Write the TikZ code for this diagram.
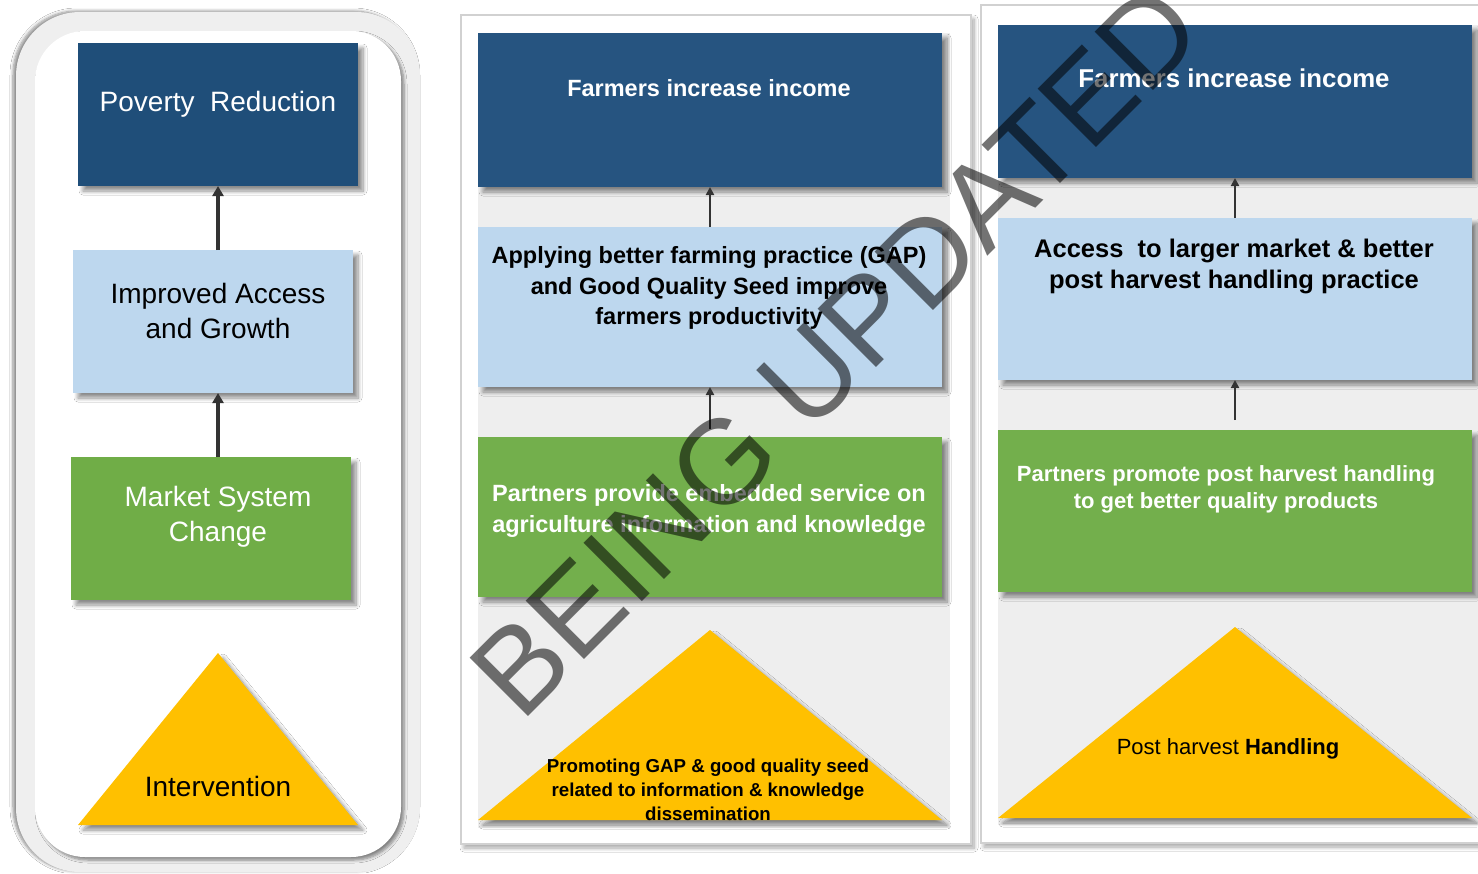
\documentclass[tikz,border=0pt]{standalone}
\usepackage{fontspec}
\setmainfont{Liberation Sans}
\usetikzlibrary{arrows.meta,shadows.blur}

\definecolor{navyA}{HTML}{1F4E79}
\definecolor{navyB}{HTML}{265480}
\definecolor{skyblue}{HTML}{BDD7EE}
\definecolor{leafA}{HTML}{70AD47}
\definecolor{leafB}{HTML}{73AF4C}
\definecolor{gold}{HTML}{FFC000}
\definecolor{panelgray}{HTML}{EEEEEE}
\definecolor{ringgray}{HTML}{EFEFEF}
\definecolor{arrowgray}{HTML}{333333}

\tikzset{
  boxshadow/.style={blur shadow={shadow xshift=5pt, shadow yshift=-5pt,
      shadow blur radius=4pt, shadow opacity=45, shadow blur steps=8}},
  softshadow/.style={blur shadow={shadow xshift=3pt, shadow yshift=-4pt,
      shadow blur radius=4pt, shadow opacity=35, shadow blur steps=8}},
  block/.style={rectangle, inner sep=0pt, outer sep=0pt, anchor=north west, boxshadow},
  navyboxA/.style={block, fill=navyA},
  navyboxB/.style={block, fill=navyB},
  skybox/.style={block, fill=skyblue},
  leafboxA/.style={block, fill=leafA},
  leafboxB/.style={block, fill=leafB},
  wide/.style={minimum width=280pt, minimum height=143pt},
  midcol/.style={minimum width=464pt},
  rightcol/.style={minimum width=474pt},
  frame/.style={rectangle, inner sep=0pt, outer sep=0pt, anchor=north west,
      fill=white, draw=black!18, line width=2pt, softshadow},
  plain/.style={font=\fontsize{28}{35}\selectfont, align=center, inner sep=0pt},
  boldA/.style={font=\bfseries\fontsize{23.5}{30.5}\selectfont, align=center, inner sep=0pt},
  boldB/.style={font=\bfseries\fontsize{25.5}{31}\selectfont, align=center, inner sep=0pt},
  bigarrow/.style={draw=arrowgray, line width=3.5pt, -{Triangle[width=11pt,length=10pt]}},
  thinarrow/.style={draw=arrowgray, line width=2.4pt, -{Triangle[width=8pt,length=8pt]}},
  watermark/.style={font=\fontsize{120}{144}\selectfont, text=black, text opacity=0.55,
      inner sep=0pt, outer sep=0pt},
}

\begin{document}
\begin{tikzpicture}[x=1pt, y=-1pt]
\useasboundingbox (0,0) rectangle (1478,873);
\fill[white] (0,0) rectangle (1478,873);

% ---------- left column: generic results chain ----------
\fill[ringgray, blur shadow={shadow xshift=-3pt, shadow yshift=1pt,
      shadow blur radius=3pt, shadow opacity=45, shadow blur steps=6}]
  (16,12) [rounded corners=64pt] rectangle (420,872);
\fill[white, blur shadow={shadow xshift=3pt, shadow yshift=-3pt,
      shadow blur radius=3pt, shadow opacity=45, shadow blur steps=6}]
  (35,31) [rounded corners=50pt] rectangle (401,857);

\node[navyboxA, wide] (pov) at (78,43) {};
\node[skybox, wide]   (imp) at (73,250) {};
\node[leafboxA, wide] (msc) at (71,457) {};
\path[fill=gold, boxshadow] (78,825) -- (218,653) -- (358,825) -- cycle;

\node[plain, text=white] (povT) at (218,104) {Poverty\ \ Reduction};
\node[plain, text=black] (impT) at (218,311) {Improved Access\\and Growth};
\node[plain, text=white] (mscT) at (218,517) {Market System\\Change};
\node[plain, text=black] (intT) at (218,786) {Intervention};

\draw[bigarrow] (imp.north -| pov.south) -- (pov.south);
\draw[bigarrow] (msc.north -| pov.south) -- (imp.south -| pov.south);

% ---------- middle column: GAP and quality seed ----------
\node[frame, minimum width=510pt, minimum height=829pt] (fr2) at (461,15) {};
\fill[panelgray] (478,33) rectangle (950,828);

\node[navyboxB, midcol, minimum height=154pt] (inc2) at (478,33) {};
\node[skybox,   midcol, minimum height=160pt] (gap2) at (478,227) {};
\node[leafboxB, midcol, minimum height=160pt] (svc2) at (478,437) {};
\path[fill=gold, boxshadow] (478,820) -- (710,630) -- (942,820) -- cycle;

\node[boldA, text=white] (inc2T) at (709,88) {Farmers increase income};
\node[boldA, text=black] (gap2T) at (709,288)
  {Applying better farming practice (GAP)\\and Good Quality Seed improve\\farmers productivity};
\node[boldA, text=white] (svc2T) at (709,511)
  {Partners provide embedded service on\\agriculture information and knowledge};
\node[font=\bfseries\fontsize{18.7}{24}\selectfont, align=center, inner sep=0pt]
  (pro2T) at (708,790)
  {Promoting GAP \& good quality seed\\related to information \& knowledge\\dissemination};

\draw[thinarrow] (gap2.north -| 710,0) -- (inc2.south -| 710,0);
\draw[thinarrow] ([yshift=8pt]svc2.north -| 710,0) -- (gap2.south -| 710,0);

% ---------- right column: post harvest handling ----------
\node[frame, minimum width=530pt, minimum height=838pt] (fr3) at (981,5) {};
\fill[panelgray] (998,25) rectangle (1478,825);

\node[navyboxB, rightcol, minimum height=153pt] (inc3) at (998,25) {};
\node[skybox,   rightcol, minimum height=162pt] (mkt3) at (998,218) {};
\node[leafboxB, rightcol, minimum height=162pt] (php3) at (998,430) {};
\path[fill=gold, boxshadow] (998,818) -- (1235,627) -- (1472,818) -- cycle;

\node[boldB, text=white, font=\bfseries\fontsize{25.8}{31}\selectfont] (inc3T) at (1234,78)
  {Farmers increase income};
\node[boldB, text=black] (mkt3T) at (1234,266.5)
  {Access\ \ to larger market \& better\\post harvest handling practice};
\node[font=\bfseries\fontsize{22}{27}\selectfont, text=white, align=center, inner sep=0pt]
  (php3T) at (1226,489.5)
  {Partners promote post harvest handling\\to get better quality products};
\node[font=\fontsize{22}{27}\selectfont, inner sep=0pt] (phh3T) at (1228,749)
  {Post harvest \textbf{Handling}};

\draw[thinarrow] (mkt3.north -| 1235,0) -- (inc3.south -| 1235,0);
\draw[thinarrow] ([yshift=10pt]php3.north -| 1235,0) -- (mkt3.south -| 1235,0);

% ---------- status stamp across the chart ----------
\node[watermark, rotate=45, anchor=base west] (stamp) at (521,723) {BEING UPDATED};
\end{tikzpicture}
\end{document}
